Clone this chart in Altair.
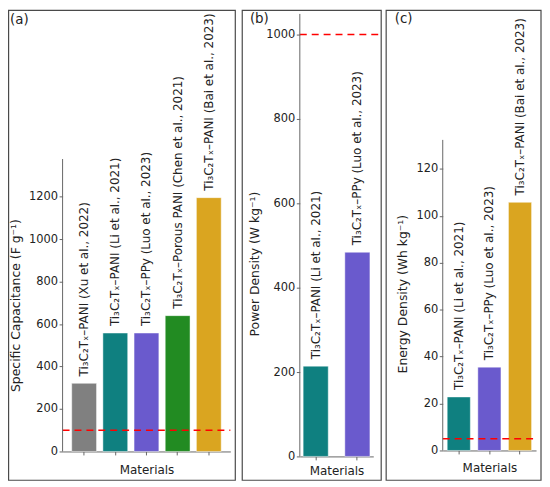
import altair as alt
import pandas as pd

# ---------------- data ----------------
A_LABELS = [
    "Ti₃C₂Tₓ–PANI (Xu et al., 2022)",
    "Ti₃C₂Tₓ–PANI (Li et al., 2021)",
    "Ti₃C₂Tₓ–PPy (Luo et al., 2023)",
    "Ti₃C₂Tₓ–Porous PANI (Chen et al., 2021)",
    "Ti₃C₂Tₓ–PANI (Bai et al., 2023)",
]
A_VALUES = [321, 558, 558, 640, 1196]
A_COLORS = ["#808080", "#0f8080", "#6a5acd", "#228b22", "#daa520"]
A_REF = 100
A_TICKS = [0, 200, 400, 600, 800, 1000, 1200]
A_YLIM = 1378

B_LABELS = [
    "Ti₃C₂Tₓ–PANI (Li et al., 2021)",
    "Ti₃C₂Tₓ–PPy (Luo et al., 2023)",
]
B_VALUES = [214, 484]
B_COLORS = ["#0f8080", "#6a5acd"]
B_REF = 1000
B_TICKS = [0, 200, 400, 600, 800, 1000]
B_YLIM = 1049

C_LABELS = [
    "Ti₃C₂Tₓ–PANI (Li et al., 2021)",
    "Ti₃C₂Tₓ–PPy (Luo et al., 2023)",
    "Ti₃C₂Tₓ–PANI (Bai et al., 2023)",
]
C_VALUES = [22.8, 35.5, 105.7]
C_COLORS = ["#0f8080", "#6a5acd", "#daa520"]
C_REF = 5
C_TICKS = [0, 20, 40, 60, 80, 100, 120]
C_YLIM = 132.3

FONT = "DejaVu Sans"
AX = "#666666"
TXT = "#222222"


def panel(labels, values, colors, ref, ticks, ylim, ytitle, letter,
          width, height, px_per_unit, pad_in, pad_out,
          title_x, title_y, mat_y, frame, letter_xy, ref_extra=0):
    df = pd.DataFrame({"label": labels, "value": values})
    yscale_max = height / px_per_unit

    x = alt.X(
        "label:N", sort=labels,
        scale=alt.Scale(paddingInner=pad_in, paddingOuter=pad_out),
        axis=alt.Axis(
            title="Materials", labels=False, ticks=True, tickSize=3.5,
            tickColor=AX, domainColor=AX, domainWidth=1, tickWidth=1,
            titleFontSize=12, titleFontWeight="normal", titleColor=TXT,
            titleBaseline="alphabetic", titleY=mat_y, titleFont=FONT,
        ),
    )
    y = alt.Y(
        "value:Q",
        scale=alt.Scale(domain=[0, yscale_max], nice=False, zero=True),
        axis=alt.Axis(
            values=ticks, format="d", domain=False, grid=False, tickSize=3.5,
            tickColor=AX, tickWidth=1, labelFontSize=11.5, labelColor=TXT,
            labelPadding=1.5, labelFont=FONT,
            title=ytitle, titleFontSize=12.5, titleFontWeight="normal",
            titleColor=TXT, titleX=title_x, titleY=title_y, titleFont=FONT,
        ),
    )
    color = alt.Color("label:N", scale=alt.Scale(domain=labels, range=colors), legend=None)

    base = alt.Chart(df)
    bars = base.mark_bar(stroke="white", strokeOpacity=0.45, strokeWidth=1).encode(
        x=x, y=y, color=color
    )
    texts = base.mark_text(
        angle=270, align="left", baseline="middle", dx=7, fontSize=12,
        color=TXT, font=FONT,
    ).encode(x=x, y=y, text="label:N")

    one = pd.DataFrame({"k": [0]})
    refrule = alt.Chart(one).mark_rule(
        color="#ff0000", strokeDash=[7, 5], strokeWidth=1.5
    ).encode(y=alt.Y(datum=ref), x=alt.value(0), x2=alt.value(width + ref_extra))
    axisrule = alt.Chart(one).mark_rule(color=AX, strokeWidth=1).encode(
        x=alt.value(0), y=alt.Y(datum=0), y2=alt.Y2(datum=ylim)
    )
    fx0, fx1, fy0, fy1 = frame
    box = alt.Chart(one).mark_rect(
        fillOpacity=0, stroke="#4a4a4a", strokeWidth=1.2
    ).encode(x=alt.value(fx0), x2=alt.value(fx1), y=alt.value(fy0), y2=alt.value(fy1))
    let = alt.Chart(one).mark_text(
        align="left", baseline="alphabetic", fontSize=13.5, color=TXT, font=FONT
    ).encode(x=alt.value(letter_xy[0]), y=alt.value(letter_xy[1]), text=alt.value(letter))

    return alt.layer(box, bars, texts, refrule, axisrule, let).properties(
        width=width, height=height
    )


pa = panel(A_LABELS, A_VALUES, A_COLORS, A_REF, A_TICKS, A_YLIM,
           "Specific Capacitance (F g⁻¹)", "(a)",
           169, 441, 0.2138, 0.204, 0.293,
           -40, 293.5, 22, (-54.4, 174, -3.4, 470), (-53, 10.5))
pb = panel(B_LABELS, B_VALUES, B_COLORS, B_REF, B_TICKS, B_YLIM,
           "Power Density (W kg⁻¹)", "(b)",
           74, 446, 0.425, 0.398, 0.08,
           -39, 251.7, 18.7, (-58, 82, -3.4, 470), (-50.3, 9), ref_extra=8)
pc = panel(C_LABELS, C_VALUES, C_COLORS, C_REF, C_TICKS, C_YLIM,
           "Energy Density (Wh kg⁻¹)", "(c)",
           94, 440, 2.365, 0.245, 0.146,
           -34, 282, 21.3, (-57, 99, -3.4, 470), (-48.3, 9))

chart = alt.hconcat(pa, pb, pc, spacing=70, bounds="flush").properties(
    padding=0
).configure(font=FONT).configure_view(strokeWidth=0)

chart.save("out.html", embed_options={"renderer": "svg", "actions": False})
